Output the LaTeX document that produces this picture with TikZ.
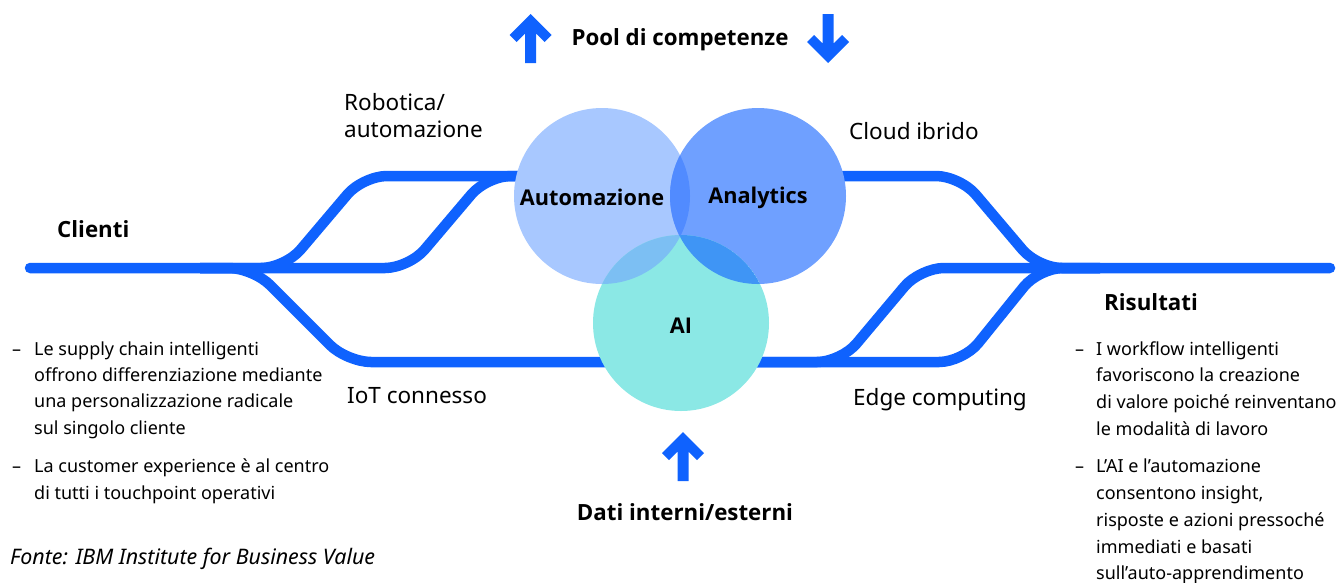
\documentclass[tikz,border=0pt]{standalone}
\usepackage{fontspec}
\setmainfont{Noto Sans}
\newfontfamily\titlefam{Open Sans}
\definecolor{ibmblue}{HTML}{0F62FE}
\definecolor{autoc}{HTML}{A8C8FF}
\definecolor{analc}{HTML}{6FA0FF}
\definecolor{aic}{HTML}{8BE8E5}
\definecolor{autoanal}{HTML}{518BFF}
\definecolor{autoai}{HTML}{7CBFF3}
\definecolor{analai}{HTML}{3F95F5}
\definecolor{triple}{HTML}{3C8EF8}
\tikzset{
  track/.style={draw=ibmblue, line width=10.5pt, rounded corners=24pt},
  uparr/.pic={\fill[ibmblue] (0,0) -- (-21,21) -- (-14,28) -- (-5.5,19.5) -- (-5.5,49) -- (5.5,49) -- (5.5,19.5) -- (14,28) -- (21,21) -- cycle;},
  title/.style={inner sep=0pt, font=\titlefam\bfseries\fontsize{22.3}{24}\selectfont},
  circlbl/.style={inner sep=0pt, font=\titlefam\bfseries\fontsize{21.7}{24}\selectfont},
  lbl/.style={inner sep=0pt, anchor=base west, font=\fontsize{22.5}{26}\selectfont},
  body/.style={inner sep=0pt, anchor=base west, font=\fontsize{18}{20}\selectfont},
}
\begin{document}
\begin{tikzpicture}[x=1pt,y=-1pt]
\useasboundingbox (0,0) rectangle (1338,582);
% ---- tracks, left
\coordinate (lend) at (30,268);
\coordinate (autoc) at (602,196);
\coordinate (analc) at (758,196);
\coordinate (aic) at (681,323);
\draw[track, line cap=round] (lend) -- (409,268) -- (487,176) -- (602,176);
\draw[track] (200,268) -- (285,268) -- (363,176) -- (602,176);
\draw[track] (200,268) -- (253,268) -- (347,362) -- (681,362);
% ---- tracks, right
\coordinate (rend) at (1330,268);
\draw[track, line cap=round] (758,176) -- (960,176) -- (1038,268) -- (rend);
\draw[track] (681,362) -- (841,362) -- (920,268) -- (1100,268);
\draw[track] (681,362) -- (963,362) -- (1039,268) -- (1100,268);
% ---- circles
\fill[autoc] (autoc) circle (88);
\fill[analc] (analc) circle (88);
\fill[aic] (aic) circle (88);
\begin{scope}
  \clip (autoc) circle (88);
  \fill[autoanal] (analc) circle (88);
  \fill[autoai] (aic) circle (88);
  \clip (analc) circle (88);
  \fill[triple] (aic) circle (88);
\end{scope}
\begin{scope}
  \clip (analc) circle (88);
  \clip (aic) circle (88);
  \begin{scope}[even odd rule]
    \clip (autoc) circle (88) (0,0) rectangle (1338,582);
    \fill[analai] (aic) circle (88);
  \end{scope}
\end{scope}
\node[circlbl] (automazione) at (592,197) {Automazione};
\node[circlbl] (analytics) at (758,198) {Analytics};
\node[circlbl] (ai) at (681,326) {AI};
% ---- arrows
\pic at (530.5,14) {uparr};
\pic[rotate=180] at (828,63) {uparr};
\pic at (683,432) {uparr};
% ---- titles
\node[title, anchor=base] (pool) at (680,45) {Pool di competenze};
\node[title, anchor=base] (dati) at (685,520) {Dati interni/esterni};
\node[title, anchor=base west] (clienti) at (57,237) {Clienti};
\node[title, anchor=base west] (risultati) at (1104,310) {Risultati};
% ---- track labels
\node[lbl] (robotica) at (344,110) {Robotica/};
\node[lbl] (automaz) at (344,137) {automazione};
\node[lbl] (cloud) at (849,139) {Cloud ibrido};
\node[lbl] (iot) at (347,403) {IoT connesso};
\node[lbl] (edge) at (853,405) {Edge computing};
% ---- left bullets
\node[body] (ld1) at (12,355) {–};
\node[body] (ld2) at (12,472) {–};
\foreach \yy/\tt [count=\i] in {355/{Le supply chain intelligenti},381/{offrono differenziazione mediante},407/{una personalizzazione radicale},434/{sul singolo cliente},472/{La customer experience è al centro},499/{di tutti i touchpoint operativi}}
  \node[body] (lt\i) at (34,\yy) {\tt};
% ---- right bullets
\node[body] (rd1) at (1075,355) {–};
\node[body] (rd2) at (1075,472) {–};
\foreach \yy/\tt [count=\i] in {355/{I workflow intelligenti},381/{favoriscono la creazione},408/{di valore poiché reinventano},435/{le modalità di lavoro},472/{L’AI e l’automazione},499/{consentono insight,},526/{risposte e azioni pressoché},553/{immediati e basati},579/{sull’auto-apprendimento}}
  \node[body] (rt\i) at (1096,\yy) {\tt};
% ---- source
\node[body, font=\fontsize{21.4}{22}\selectfont\itshape] (fonte) at (10,564) {Fonte: IBM Institute for Business Value};
\end{tikzpicture}
\end{document}
